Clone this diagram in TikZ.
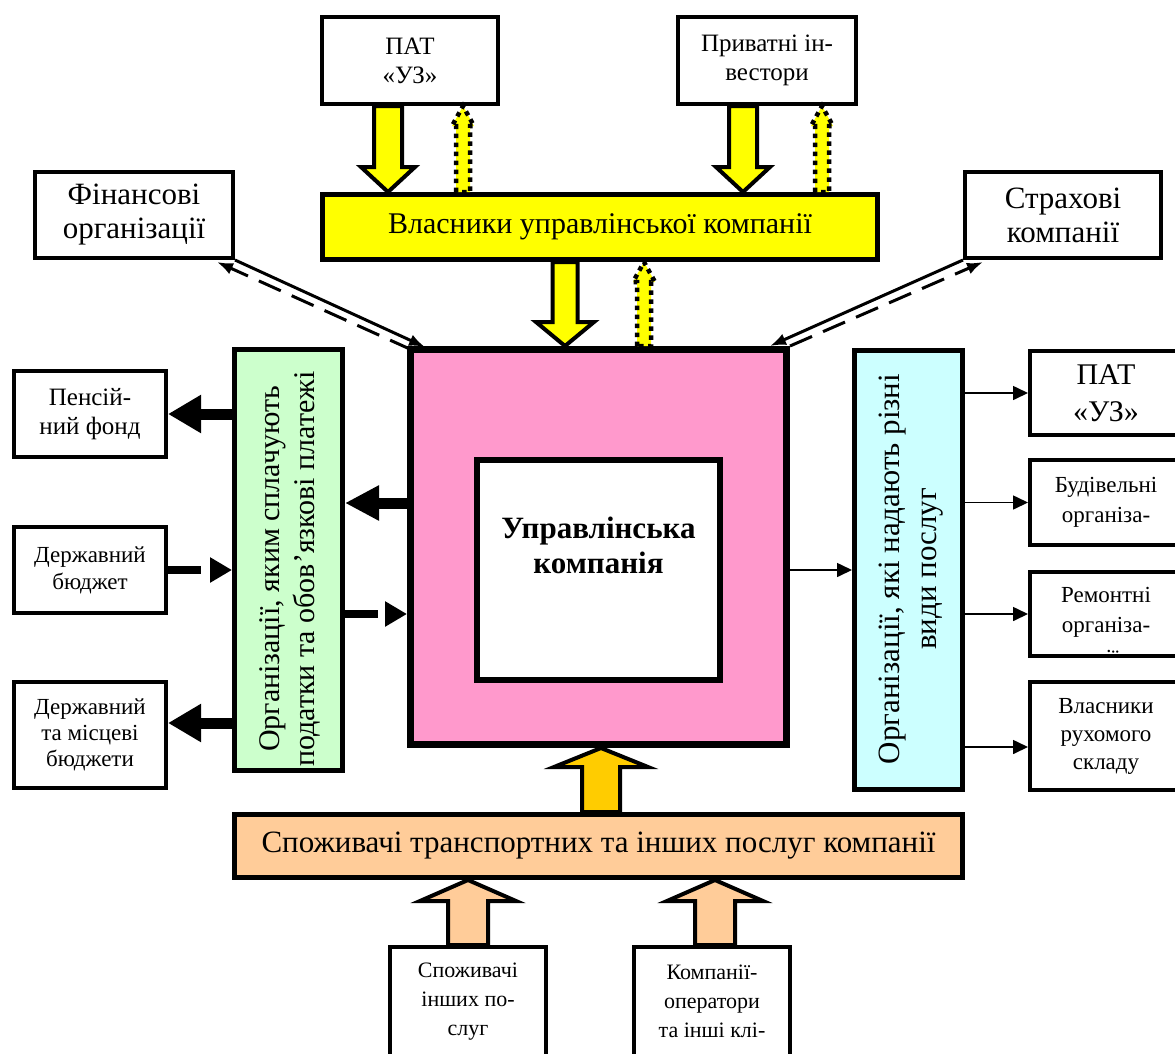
\documentclass[tikz,border=0pt]{standalone}
\usepackage{fontspec}
\setmainfont{Liberation Serif}
\usetikzlibrary{arrows.meta,calc}
\definecolor{ownYellow}{HTML}{FFFF00}
\definecolor{corePink}{HTML}{FF99CC}
\definecolor{taxGreen}{HTML}{CCFFCC}
\definecolor{servCyan}{HTML}{CCFFFF}
\definecolor{custPeach}{HTML}{FFCC99}
\definecolor{flowGold}{HTML}{FFCC00}
\newcommand\fsz[2]{\fontsize{#1pt}{#2pt}\selectfont}

\tikzset{
  wbox/.style={draw, line width=4pt, fill=white, inner sep=0pt, align=center},
  cbox/.style={draw, line width=5pt, inner sep=0pt, align=center},
  % vertical block arrow: {shaft half width}{head half width}{head length}
  blockarrow/.style n args={3}{to path={
    let \p1=(\tikztostart), \p2=(\tikztostart|-\tikztotarget), \n1={sign(\y2-\y1)} in
    ({\x1-#1pt},{\y1}) -- ({\x1-#1pt},{\y2-(\n1*#3pt)}) -- ({\x1-#2pt},{\y2-(\n1*#3pt)})
    -- ({\x1},{\y2})
    -- ({\x1+#2pt},{\y2-(\n1*#3pt)}) -- ({\x1+#1pt},{\y2-(\n1*#3pt)}) -- ({\x1+#1pt},{\y1}) -- cycle}},
  yblock/.style={draw, line width=4pt, fill=ownYellow, blockarrow={#1}},
  dotblock/.style={draw, line width=4.5pt, dash pattern=on 4.5pt off 4.5pt, fill=ownYellow, blockarrow={7}{11}{20}},
  heavy/.style={line width=11pt, -{Triangle[length=33pt,width=36pt]}},
  dheavy/.style={line width=8pt, dash pattern=on 33pt off 40pt, -{Triangle[length=22pt,width=24pt]}},
  tarrow/.style={line width=1.6pt, -{Triangle[length=15pt,width=14pt]}},
  dline/.style={line width=3pt, -{Latex[length=16pt,width=12pt]}},
  dlined/.style={dline, dash pattern=on 24pt off 12pt},
}

\begin{document}
\begin{tikzpicture}[x=1pt,y=-1pt]
\useasboundingbox (0,0) rectangle (1175,1053);
\fill[white] (0,0) rectangle (1175,1053);
\clip (0,0) rectangle (1175,1053);

% owners and the owning side
\node[wbox, minimum width=176pt, minimum height=87pt, font=\fsz{25}{29}] (patT) at (410,60.5) {ПАТ\\«УЗ»};
\node[wbox, minimum width=178pt, minimum height=87pt, font=\fsz{25}{29}] (invest) at (767,60.5) {Приватні ін-\\вестори};
\node[cbox, fill=ownYellow, minimum width=555pt, minimum height=65pt, font=\fsz{30}{34}] (owners) at (600,227) {Власники управлінської компанії};
\node[wbox, minimum width=198pt, minimum height=86pt, font=\fsz{31}{34}] (fin) at (134,215) {Фінансові\\організації};
\node[wbox, minimum width=196pt, minimum height=86pt, font=\fsz{31}{34}] (insur) at (1063,215) {Страхові\\компанії};

% the company itself
\node[draw, line width=7pt, fill=corePink, inner sep=0pt, minimum width=376pt, minimum height=395pt] (main) at (598.5,547) {};
\node[draw, line width=6pt, fill=white, inner sep=0pt, minimum width=243pt, minimum height=220pt] (core) at (598.5,570) {};
\node[font=\bfseries\fsz{31}{35}, align=center] (coreT) at (598.5,545) {Управлінська\\компанія};

% tax side
\node[cbox, fill=taxGreen, minimum width=108pt, minimum height=421pt] (green) at (288.5,560) {};
\node[rotate=90, font=\fsz{30}{35}, align=center] (greenT) at (289.5,569) {Організації, яким сплачують\\податки та обов’язкові платежі};
\node[wbox, minimum width=152pt, minimum height=86pt, font=\fsz{25}{29}] (pens) at (90,414) {Пенсій-\\ний фонд};
\node[wbox, minimum width=152pt, minimum height=86pt, font=\fsz{23}{27}] (stbud) at (90,570) {Державний\\бюджет};
\node[wbox, minimum width=152pt, minimum height=106pt, font=\fsz{23}{26}] (lbud) at (90,735) {Державний\\та місцеві\\бюджети};

% service side
\node[cbox, fill=servCyan, minimum width=108pt, minimum height=439pt] (cyan) at (908.5,570) {};
\node[rotate=90, font=\fsz{31}{37}, align=center] (cyanT) at (911,569) {Організації, які надають різні\\види послуг};
\node[wbox, minimum width=152pt, minimum height=84pt, font=\fsz{30}{37}] (patR) at (1106,393) {ПАТ\\«УЗ»};
\node[wbox, minimum width=152pt, minimum height=85pt, font=\fsz{23}{30}] (build) at (1106,502.5) {Будівельні\\організа-};
\node[wbox, minimum width=152pt, minimum height=84pt] (rem) at (1106,614) {};
\begin{scope}
  \clip ([xshift=4pt,yshift=-4pt]rem.north west) rectangle ([xshift=-4pt,yshift=6pt]rem.south east);
  \node[font=\fsz{23}{30}, align=center] (remT) at ([yshift=-14.5pt]rem.center) {Ремонтні\\організа-\\[3pt]ції};
\end{scope}
\node[wbox, minimum width=152pt, minimum height=108pt, font=\fsz{23}{28}] (vlas) at (1106,736) {Власники\\рухомого\\складу};

% customers
\node[cbox, fill=custPeach, minimum width=728pt, minimum height=63pt, font=\fsz{31}{34}] (orange) at (598.5,846) {Споживачі транспортних та інших послуг компанії};
\node[wbox, minimum width=156pt, minimum height=151pt] (cons) at (468,1022.5) {};
\node[font=\fsz{22}{29}, align=center] (consT) at ($(cons.north)+(0,56.5)$) {Споживачі\\інших по-\\слуг};
\node[wbox, minimum width=156pt, minimum height=151pt] (oper) at (712,1022.5) {};
\node[font=\fsz{22}{29}, align=center] (operT) at ($(oper.north)+(0,56.5)$) {Компанії-\\оператори\\та інші клі-};

% block arrows between owners and the company
\draw[yblock={14}{27}{25}] ([xshift=-22pt]patT.south) to (owners.north);
\draw[yblock={14}{27}{25}] ([xshift=-24pt]invest.south) to (owners.north);
\draw[dotblock] ([xshift=-137pt]owners.north) to (patT.south);
\draw[dotblock] ([xshift=222pt]owners.north) to (invest.south);
\draw[yblock={12.5}{29}{24}] ([xshift=-35pt]owners.south) to (main.north);
\draw[dotblock] ([xshift=45.5pt]main.north) to (owners.south);

% customer flows
\draw[draw, line width=4pt, fill=flowGold, blockarrow={19}{47}{19}] ([xshift=2.5pt]orange.north) to (main.south);
\draw[draw, line width=4pt, fill=custPeach, blockarrow={20}{48}{21}] (cons.north) to (orange.south);
\draw[draw, line width=4pt, fill=custPeach, blockarrow={20}{48}{21}] ([xshift=3pt]oper.north) to (orange.south);

% financial and insurance links
\draw[dline] (fin.south east) -- ([xshift=18pt,yshift=-1pt]main.north west);
\draw[dlined] ([xshift=5pt,yshift=-4pt]main.north west) -- ([xshift=-18pt,yshift=-2pt]fin.south east);
\draw[dline] (insur.south west) -- ([xshift=-20pt]main.north east);
\draw[dlined] (main.north east) -- ([xshift=20pt,yshift=-2pt]insur.south west);

% payments
\coordinate (k2) at ([yshift=44pt]main.west);
\coordinate (k3) at ([yshift=12pt]lbud.east);
\coordinate (d2) at ([yshift=-54pt]green.east);
\draw[heavy] (green.west |- pens.east) -- (pens.east);
\draw[heavy] (k3 -| green.west) -- (k3);
\draw[line width=11pt, -{Triangle[length=34pt,width=33pt]}] (k2) -- (k2 -| green.east);
\draw[dheavy] (stbud.east) -- (green.west |- stbud.east);
\draw[dheavy] (d2) -- (d2 -| main.west);

% services
\coordinate (v4) at ([yshift=-11pt]vlas.west);
\draw[tarrow] (cyan.west -| main.east) -- (cyan.west);
\draw[tarrow] (patR.west -| cyan.east) -- (patR.west);
\draw[tarrow] (build.west -| cyan.east) -- (build.west);
\draw[tarrow] (rem.west -| cyan.east) -- (rem.west);
\draw[tarrow] (v4 -| cyan.east) -- (v4);
\end{tikzpicture}
\end{document}
